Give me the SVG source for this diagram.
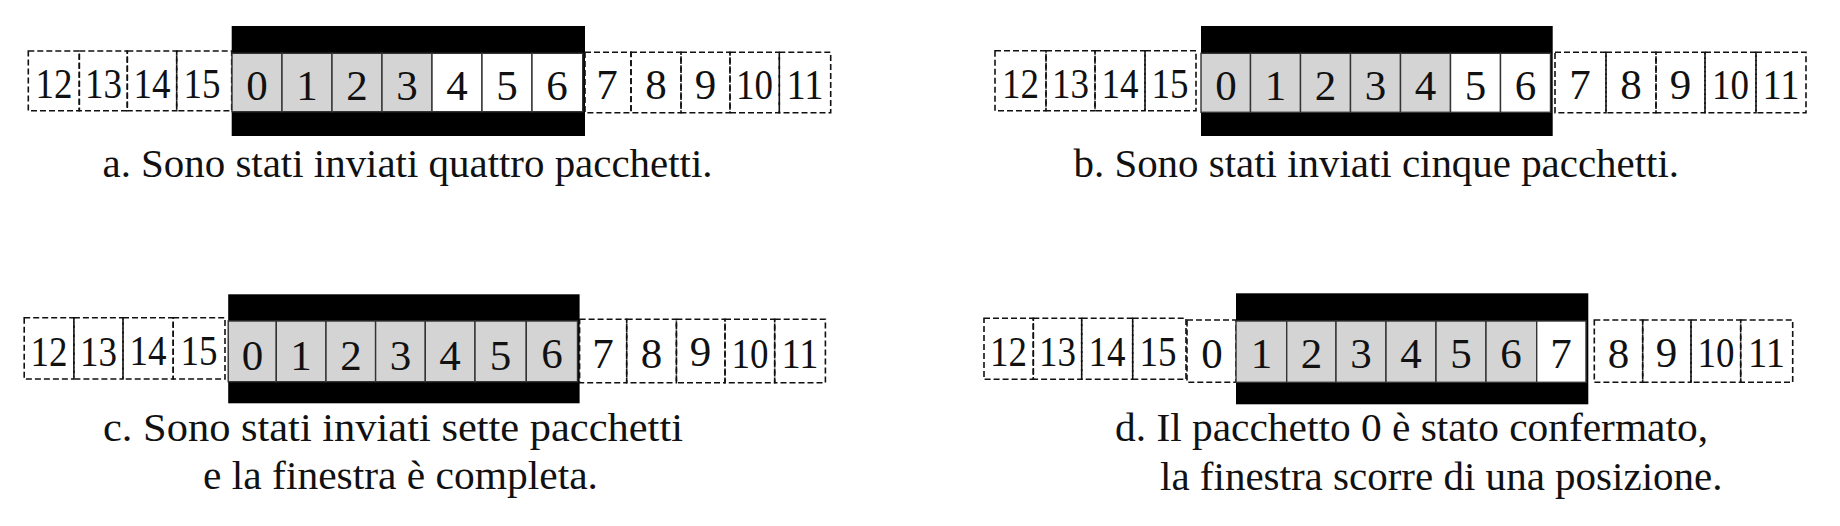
<svg xmlns="http://www.w3.org/2000/svg" width="1840" height="526" viewBox="0 0 1840 526">
<style>
.d{fill:none;stroke:#111;stroke-width:1.6;stroke-dasharray:6 3}
.g{fill:#d4d4d4;stroke:#333;stroke-width:1.4}
.w{fill:#fff;stroke:#333;stroke-width:1.4}
.bk{fill:#000}
.n{font-family:"Liberation Serif","Times New Roman",serif;font-size:43px;fill:#111;text-anchor:middle}
.c{font-family:"Liberation Serif","Times New Roman",serif;font-size:41px;fill:#111}
</style>
<rect width="1840" height="526" fill="#fff"/>

<g id="panel-a">
<rect class="bk" x="231.7" y="26" width="353.3" height="110"/>
<rect class="d" x="28.3" y="51" width="51" height="59.7"/><text class="n" x="54" y="98" textLength="37" lengthAdjust="spacingAndGlyphs">12</text>
<rect class="d" x="79.3" y="51" width="48" height="59.7"/><text class="n" x="103.5" y="98" textLength="37" lengthAdjust="spacingAndGlyphs">13</text>
<rect class="d" x="127.3" y="51" width="49.4" height="59.7"/><text class="n" x="152" y="98" textLength="37" lengthAdjust="spacingAndGlyphs">14</text>
<rect class="d" x="176.7" y="51" width="55" height="59.7"/><text class="n" x="202" y="98" textLength="37" lengthAdjust="spacingAndGlyphs">15</text>
<rect class="g" x="232" y="53.3" width="50" height="58.4"/><text class="n" x="257" y="100">0</text>
<rect class="g" x="282" y="53.3" width="50" height="58.4"/><text class="n" x="307" y="100">1</text>
<rect class="g" x="332" y="53.3" width="50" height="58.4"/><text class="n" x="357" y="100">2</text>
<rect class="g" x="382" y="53.3" width="50" height="58.4"/><text class="n" x="407" y="100">3</text>
<rect class="w" x="432" y="53.3" width="50" height="58.4"/><text class="n" x="457" y="100">4</text>
<rect class="w" x="482" y="53.3" width="50" height="58.4"/><text class="n" x="507" y="100">5</text>
<rect class="w" x="532" y="53.3" width="50.7" height="58.4"/><text class="n" x="557" y="100">6</text>
<rect class="d" x="585" y="52.3" width="46" height="60.4"/><text class="n" x="607" y="99">7</text>
<rect class="d" x="631" y="52.3" width="50" height="60.4"/><text class="n" x="656" y="99">8</text>
<rect class="d" x="681" y="52.3" width="49" height="60.4"/><text class="n" x="705.5" y="99">9</text>
<rect class="d" x="730" y="52.3" width="49.3" height="60.4"/><text class="n" x="754.5" y="99" textLength="37" lengthAdjust="spacingAndGlyphs">10</text>
<rect class="d" x="779.3" y="52.3" width="51.4" height="60.4"/><text class="n" x="805" y="99" textLength="37" lengthAdjust="spacingAndGlyphs">11</text>
<text class="c" x="102.5" y="177" textLength="610" lengthAdjust="spacingAndGlyphs">a. Sono stati inviati quattro pacchetti.</text>
</g>

<g id="panel-b">
<rect class="bk" x="1201" y="26" width="351.7" height="110"/>
<rect class="d" x="995" y="50.7" width="51" height="60"/><text class="n" x="1020.5" y="98" textLength="37" lengthAdjust="spacingAndGlyphs">12</text>
<rect class="d" x="1046" y="50.7" width="49" height="60"/><text class="n" x="1070.5" y="98" textLength="37" lengthAdjust="spacingAndGlyphs">13</text>
<rect class="d" x="1095" y="50.7" width="50" height="60"/><text class="n" x="1120" y="98" textLength="37" lengthAdjust="spacingAndGlyphs">14</text>
<rect class="d" x="1145" y="50.7" width="51" height="60"/><text class="n" x="1170" y="98" textLength="37" lengthAdjust="spacingAndGlyphs">15</text>
<rect class="g" x="1201" y="53.3" width="49.5" height="59"/><text class="n" x="1226" y="100">0</text>
<rect class="g" x="1250.5" y="53.3" width="50" height="59"/><text class="n" x="1275.5" y="100">1</text>
<rect class="g" x="1300.5" y="53.3" width="50" height="59"/><text class="n" x="1325.5" y="100">2</text>
<rect class="g" x="1350.5" y="53.3" width="50" height="59"/><text class="n" x="1375.5" y="100">3</text>
<rect class="g" x="1400.5" y="53.3" width="50" height="59"/><text class="n" x="1425.5" y="100">4</text>
<rect class="w" x="1450.5" y="53.3" width="50" height="59"/><text class="n" x="1475.5" y="100">5</text>
<rect class="w" x="1500.5" y="53.3" width="50" height="59"/><text class="n" x="1525.5" y="100">6</text>
<rect class="d" x="1555" y="52.3" width="51" height="60.4"/><text class="n" x="1580" y="99">7</text>
<rect class="d" x="1606" y="52.3" width="50" height="60.4"/><text class="n" x="1631" y="99">8</text>
<rect class="d" x="1656" y="52.3" width="49" height="60.4"/><text class="n" x="1680.5" y="99">9</text>
<rect class="d" x="1705" y="52.3" width="51" height="60.4"/><text class="n" x="1730.5" y="99" textLength="37" lengthAdjust="spacingAndGlyphs">10</text>
<rect class="d" x="1756" y="52.3" width="50" height="60.4"/><text class="n" x="1781" y="99" textLength="37" lengthAdjust="spacingAndGlyphs">11</text>
<text class="c" x="1073.5" y="177" textLength="605.5" lengthAdjust="spacingAndGlyphs">b. Sono stati inviati cinque pacchetti.</text>
</g>

<g id="panel-c">
<rect class="bk" x="228.2" y="294.3" width="351.4" height="109"/>
<rect class="d" x="24.2" y="317.7" width="49.7" height="61.3"/><text class="n" x="49" y="366" textLength="37" lengthAdjust="spacingAndGlyphs">12</text>
<rect class="d" x="73.9" y="317.7" width="49.1" height="61.3"/><text class="n" x="98.5" y="366" textLength="37" lengthAdjust="spacingAndGlyphs">13</text>
<rect class="d" x="123" y="317.7" width="50.2" height="61.3"/><text class="n" x="148" y="365" textLength="37" lengthAdjust="spacingAndGlyphs">14</text>
<rect class="d" x="173.2" y="317.7" width="51.8" height="61.3"/><text class="n" x="199" y="365" textLength="37" lengthAdjust="spacingAndGlyphs">15</text>
<rect class="g" x="228.2" y="321" width="48.1" height="60.7"/><text class="n" x="252.5" y="370">0</text>
<rect class="g" x="276.3" y="321" width="49.7" height="60.7"/><text class="n" x="301" y="370">1</text>
<rect class="g" x="326" y="321" width="49.6" height="60.7"/><text class="n" x="351" y="370">2</text>
<rect class="g" x="375.6" y="321" width="49.7" height="60.7"/><text class="n" x="400.5" y="370">3</text>
<rect class="g" x="425.3" y="321" width="49.7" height="60.7"/><text class="n" x="450" y="370">4</text>
<rect class="g" x="475" y="321" width="51.3" height="60.7"/><text class="n" x="500.5" y="370">5</text>
<rect class="g" x="526.3" y="321" width="51.2" height="60.7"/><text class="n" x="552" y="368">6</text>
<rect class="d" x="579.6" y="319.3" width="47.1" height="63.4"/><text class="n" x="603" y="368">7</text>
<rect class="d" x="626.7" y="319.3" width="49.7" height="63.4"/><text class="n" x="651.5" y="368">8</text>
<rect class="d" x="676.4" y="319.3" width="48.6" height="63.4"/><text class="n" x="700.5" y="366">9</text>
<rect class="d" x="725" y="319.3" width="49.7" height="63.4"/><text class="n" x="750" y="368" textLength="37" lengthAdjust="spacingAndGlyphs">10</text>
<rect class="d" x="774.7" y="319.3" width="50.7" height="63.4"/><text class="n" x="800" y="368" textLength="37" lengthAdjust="spacingAndGlyphs">11</text>
<text class="c" x="103" y="441" textLength="580" lengthAdjust="spacingAndGlyphs">c. Sono stati inviati sette pacchetti</text>
<text class="c" x="203" y="489" textLength="395" lengthAdjust="spacingAndGlyphs">e la finestra è completa.</text>
</g>

<g id="panel-d">
<rect class="bk" x="1236" y="293.3" width="352.3" height="111"/>
<rect class="d" x="984" y="318.3" width="49.3" height="61"/><text class="n" x="1008.5" y="366" textLength="37" lengthAdjust="spacingAndGlyphs">12</text>
<rect class="d" x="1033.3" y="318.3" width="48.4" height="61"/><text class="n" x="1057.5" y="366" textLength="37" lengthAdjust="spacingAndGlyphs">13</text>
<rect class="d" x="1081.7" y="318.3" width="51" height="61"/><text class="n" x="1107" y="366" textLength="37" lengthAdjust="spacingAndGlyphs">14</text>
<rect class="d" x="1132.7" y="318.3" width="53.3" height="61"/><text class="n" x="1158" y="366" textLength="37" lengthAdjust="spacingAndGlyphs">15</text>
<rect class="d" x="1187" y="320" width="49" height="62.3"/><text class="n" x="1212" y="368">0</text>
<rect class="g" x="1236" y="321" width="50.7" height="61.3"/><text class="n" x="1261.5" y="368">1</text>
<rect class="g" x="1286.7" y="321" width="49.3" height="61.3"/><text class="n" x="1311.5" y="368">2</text>
<rect class="g" x="1336" y="321" width="50" height="61.3"/><text class="n" x="1361" y="368">3</text>
<rect class="g" x="1386" y="321" width="50" height="61.3"/><text class="n" x="1411" y="368">4</text>
<rect class="g" x="1436" y="321" width="50" height="61.3"/><text class="n" x="1461" y="368">5</text>
<rect class="g" x="1486" y="321" width="50.7" height="61.3"/><text class="n" x="1511" y="368">6</text>
<rect class="w" x="1536.7" y="321" width="49.3" height="61.3"/><text class="n" x="1561" y="368">7</text>
<rect class="d" x="1594.3" y="320" width="48.4" height="62.3"/><text class="n" x="1618.5" y="368">8</text>
<rect class="d" x="1642.7" y="320" width="48.3" height="62.3"/><text class="n" x="1666.5" y="367">9</text>
<rect class="d" x="1691" y="320" width="49.7" height="62.3"/><text class="n" x="1716" y="367" textLength="37" lengthAdjust="spacingAndGlyphs">10</text>
<rect class="d" x="1740.7" y="320" width="52" height="62.3"/><text class="n" x="1766.5" y="367" textLength="37" lengthAdjust="spacingAndGlyphs">11</text>
<text class="c" x="1115" y="441" textLength="593" lengthAdjust="spacingAndGlyphs">d. Il pacchetto 0 è stato confermato,</text>
<text class="c" x="1160" y="490" textLength="562.5" lengthAdjust="spacingAndGlyphs">la finestra scorre di una posizione.</text>
</g>
</svg>
